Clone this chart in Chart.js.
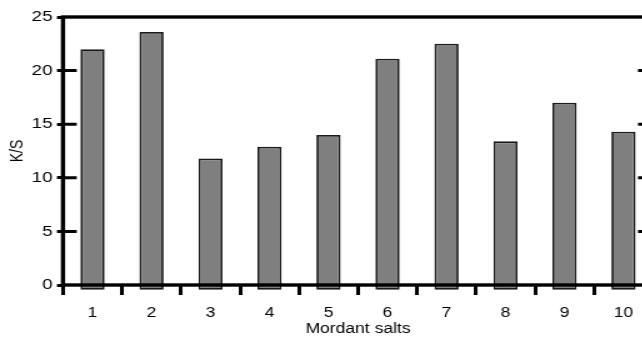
<!DOCTYPE html>
<html>
<head>
<meta charset="utf-8">
<script src="https://cdn.jsdelivr.net/npm/chart.js@4/dist/chart.umd.min.js"></script>
<style>
  html, body { margin: 0; padding: 0; overflow: hidden; background: #fff; }
  #wrap { transform: scaleX(1.25); transform-origin: 0 0; width: 525px; height: 338px; }
  canvas { display: block; }
</style>
</head>
<body>
<div id="wrap"><canvas id="chart" width="525" height="338"></canvas></div>
<script>
// K/S values for each mordant salt
const categories = ['1', '2', '3', '4', '5', '6', '7', '8', '9', '10'];
const ksValues = [22.0, 23.6, 11.8, 12.9, 14.0, 21.1, 22.5, 13.4, 17.0, 14.3];
const yTicks = [0, 5, 10, 15, 20, 25];
// bars start slightly below the zero line
const barBase = -0.45;

const FONT = '"Liberation Sans", Arial, Helvetica, sans-serif';

// Heavy frame with ticks crossing into the plot on the left and right edges
const framePlugin = {
  id: 'frame',
  afterDatasetsDraw(chart) {
    const { ctx, chartArea: a, scales } = chart;
    ctx.save();
    ctx.strokeStyle = '#000';
    ctx.lineWidth = 3.4;
    ctx.lineCap = 'butt';
    ctx.strokeRect(a.left, a.top, a.right - a.left, a.bottom - a.top);
    ctx.lineWidth = 3;
    ctx.beginPath();
    yTicks.forEach(v => {
      const y = scales.y.getPixelForValue(v);
      if (v > 0 && v < 25) {
        ctx.moveTo(a.left, y);
        ctx.lineTo(a.left + 11, y);
        ctx.moveTo(a.right - 12, y);
        ctx.lineTo(a.right, y);
      }
    });
    ctx.stroke();
    ctx.restore();
  }
};

new Chart(document.getElementById('chart'), {
  type: 'bar',
  data: {
    labels: categories,
    datasets: [{
      data: ksValues,
      base: barBase,
      clip: false,
      backgroundColor: '#7f7f7f',
      borderColor: '#1a1a1a',
      borderWidth: 1.8,
      borderSkipped: false,
      barPercentage: 0.41,
      categoryPercentage: 1.0
    }]
  },
  options: {
    responsive: false,
    animation: false,
    devicePixelRatio: 1,
    layout: { padding: { top: 17, right: 2.6, left: 0, bottom: 0 } },
    plugins: { legend: { display: false }, tooltip: { enabled: false } },
    scales: {
      x: {
        afterFit(scale) { scale.height = 53; },
        grid: {
          offset: true,
          drawOnChartArea: false,
          tickLength: 10,
          lineWidth: 3,
          color: '#000'
        },
        border: { display: false },
        ticks: {
          color: '#000',
          padding: 10,
          font: { family: FONT, size: 14 }
        },
        title: {
          display: true,
          text: 'Mordant salts',
          color: '#000',
          padding: { top: 0, bottom: 0 },
          font: { family: FONT, size: 14 }
        }
      },
      y: {
        min: 0,
        max: 25,
        afterFit(scale) { scale.width = 50.4; },
        afterBuildTicks(scale) { scale.ticks = yTicks.map(v => ({ value: v })); },
        grid: {
          drawOnChartArea: false,
          tickLength: 4.8,
          lineWidth: 3,
          color: '#000'
        },
        border: { display: false },
        ticks: {
          color: '#000',
          padding: 3.6,
          font: { family: FONT, size: 15 }
        },
        title: {
          display: true,
          text: 'K/S',
          color: '#000',
          padding: { top: 6, bottom: 0 },
          font: { family: FONT, size: 14 }
        }
      }
    }
  },
  plugins: [framePlugin]
});
</script>
</body>
</html>
